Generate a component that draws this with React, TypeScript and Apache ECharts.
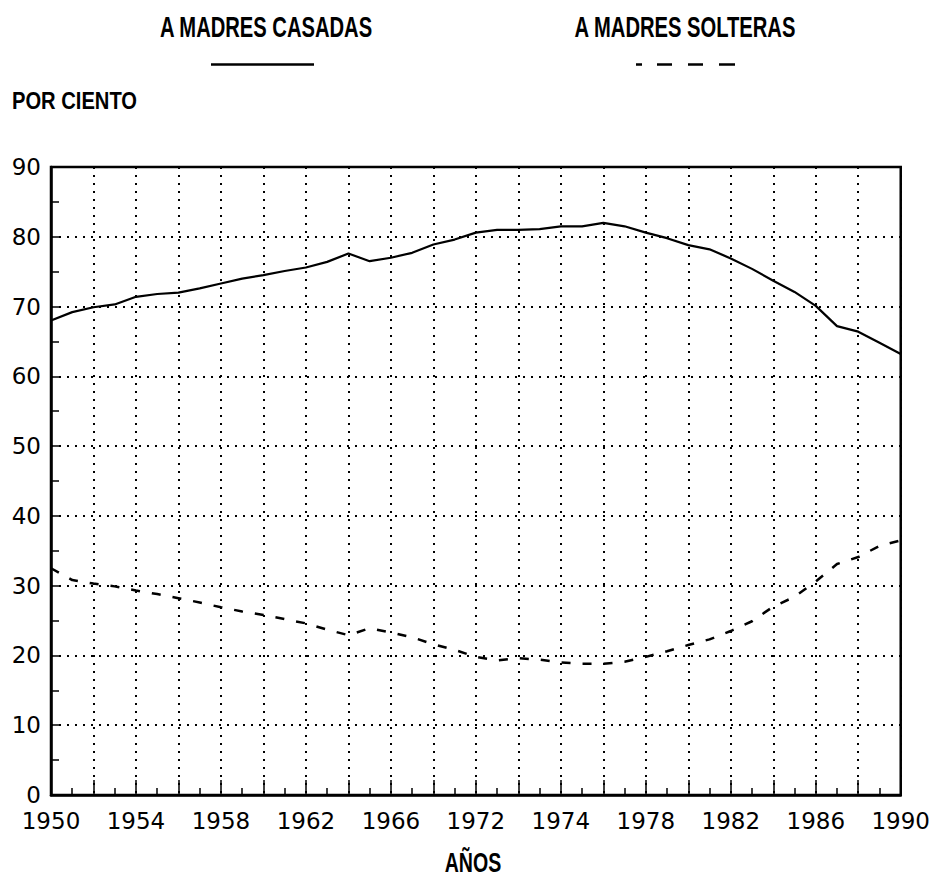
import React, { useEffect, useRef } from "react";
import * as echarts from "echarts";

const years = [
  1950, 1951, 1952, 1953, 1954, 1955, 1956, 1957, 1958, 1959,
  1960, 1961, 1962, 1963, 1964, 1965, 1966, 1967, 1968, 1969,
  1970, 1971, 1972, 1973, 1974, 1975, 1976, 1977, 1978, 1979,
  1980, 1981, 1982, 1983, 1984, 1985, 1986, 1987, 1988, 1989, 1990,
];

const casadas = [
  68.0, 69.2, 69.9, 70.3, 71.4, 71.8, 72.0, 72.6, 73.3, 74.0,
  74.5, 75.1, 75.6, 76.4, 77.6, 76.5, 77.0, 77.7, 78.9, 79.6,
  80.6, 81.0, 81.0, 81.1, 81.5, 81.5, 82.0, 81.5, 80.6, 79.8,
  78.8, 78.2, 76.9, 75.4, 73.7, 72.1, 70.1, 67.2, 66.4, 64.8, 63.2,
];

const solteras = [
  32.5, 30.8, 30.3, 29.9, 29.3, 28.8, 28.2, 27.6, 26.9, 26.3,
  25.8, 25.2, 24.6, 23.7, 22.9, 23.9, 23.3, 22.6, 21.6, 20.8,
  19.8, 19.3, 19.6, 19.4, 19.0, 18.8, 18.8, 19.1, 19.8, 20.6,
  21.5, 22.3, 23.5, 24.9, 27.0, 28.4, 30.6, 33.1, 34.1, 35.7, 36.5,
];

const xTickLabels = [
  "1950", "1954", "1958", "1962", "1966", "1972",
  "1974", "1978", "1982", "1986", "1990",
];

const seriesNames = ["A MADRES CASADAS", "A MADRES SOLTERAS"];
const yAxisTitle = "POR CIENTO";
const xAxisTitle = "AÑOS";

const TICK_FONT = "'DejaVu Sans', sans-serif";
const TITLE_FONT = "bold 30px 'Liberation Sans', Arial, sans-serif";

function textEl(text: string, x: number, y: number, font: string, scaleX: number) {
  return {
    type: "text",
    x,
    y,
    scaleX,
    style: {
      text,
      x: 0,
      y: 0,
      font,
      fill: "#000",
      align: "center",
      verticalAlign: "middle",
      textAlign: "center",
      textVerticalAlign: "middle",
    },
    silent: true,
  };
}

export default function App() {
  const ref = useRef<HTMLDivElement>(null);

  useEffect(() => {
    if (!ref.current) return;
    const chart = echarts.init(ref.current, null, { renderer: "svg" });
    const dotted = { color: "#000", width: 2, type: [2, 6] as number[] };
    const option = {
      animation: false,
      backgroundColor: "#fff",
      grid: {
        left: 51,
        right: 31,
        top: 167,
        bottom: 86,
        show: true,
        borderColor: "#000",
        borderWidth: 2.5,
        backgroundColor: "transparent",
      },
      xAxis: {
        type: "value",
        min: 1950,
        max: 1990,
        interval: 2,
        axisLine: { show: true, onZero: false, lineStyle: { color: "#000", width: 2.5 } },
        axisTick: { show: true, inside: true, length: 15, lineStyle: { color: "#000", width: 1.5 } },
        minorTick: { show: true, splitNumber: 2, length: 7, lineStyle: { color: "#000", width: 1.5 } },
        splitLine: { show: true, lineStyle: dotted },
        axisLabel: {
          show: true,
          margin: 14,
          color: "#000",
          fontFamily: TICK_FONT,
          fontSize: 23,
          showMinLabel: true,
          showMaxLabel: true,
          formatter: (v: number) => {
            const k = (v - 1950) / 4;
            return Number.isInteger(k) && xTickLabels[k] ? xTickLabels[k] : "";
          },
        },
      },
      yAxis: {
        type: "value",
        min: 0,
        max: 90,
        interval: 10,
        axisLine: { show: true, onZero: false, lineStyle: { color: "#000", width: 2.5 } },
        axisTick: { show: true, inside: true, length: 8, lineStyle: { color: "#000", width: 1.5 } },
        minorTick: { show: true, splitNumber: 2, length: 8, lineStyle: { color: "#000", width: 1.5 } },
        splitLine: { show: true, lineStyle: dotted },
        axisLabel: {
          show: true,
          margin: 10,
          color: "#000",
          fontFamily: TICK_FONT,
          fontSize: 23,
        },
      },
      series: [
        {
          name: seriesNames[0],
          type: "line",
          data: years.map((y, i) => [y, casadas[i]]),
          showSymbol: false,
          symbol: "none",
          lineStyle: { color: "#000", width: 2.2, type: "solid" },
          z: 5,
        },
        {
          name: seriesNames[1],
          type: "line",
          data: years.map((y, i) => [y, solteras[i]]),
          showSymbol: false,
          symbol: "none",
          lineStyle: { color: "#000", width: 2.5, type: [9, 12] },
          z: 5,
        },
      ],
      graphic: [
        textEl(seriesNames[0], 266, 26, TITLE_FONT, 0.673),
        textEl(seriesNames[1], 685, 26, TITLE_FONT, 0.673),
        {
          type: "line",
          shape: { x1: 211, y1: 64.5, x2: 314, y2: 64.5 },
          style: { stroke: "#000", lineWidth: 2.5 },
          silent: true,
        },
        {
          type: "line",
          shape: { x1: 636, y1: 64.5, x2: 736, y2: 64.5 },
          style: { stroke: "#000", lineWidth: 2.5, lineDash: [6, 15, 15, 16, 15, 16, 16, 100] },
          silent: true,
        },
        textEl(yAxisTitle, 74.5, 100.5, "bold 24.6px 'Liberation Sans', Arial, sans-serif", 0.82),
        textEl(xAxisTitle, 473, 862, "bold 28px 'Liberation Sans', Arial, sans-serif", 0.7),
      ],
    };
    chart.setOption(option as any);
    return () => {
      chart.dispose();
    };
  }, []);

  return (
    <div
      ref={ref}
      style={{ position: "absolute", left: 0, top: 0, width: 933, height: 881, background: "#fff" }}
    />
  );
}
